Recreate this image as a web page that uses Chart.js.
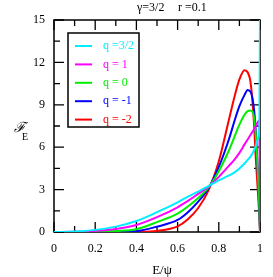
<!DOCTYPE html>
<html>
<head>
<meta charset="utf-8">
<script src="https://cdn.jsdelivr.net/npm/chart.js@4/dist/chart.umd.min.js"></script>
<style>
  body { margin: 0; background: #fff; }
  canvas { display: block; }
</style>
</head>
<body>
<canvas id="fe" width="273" height="277"></canvas>
<script>
const ePsi = [0, 0.1, 0.2, 0.3, 0.4, 0.5, 0.6, 0.65, 0.7, 0.75, 0.8, 0.85, 0.875, 0.9, 0.925, 0.94, 0.955, 0.97, 0.98, 0.99, 0.997, 1];

const fq32 = [0, 0.03, 0.15, 0.38, 0.78, 1.4, 2.1, 2.5, 2.85, 3.25, 3.65, 4.0, 4.2, 4.5, 4.85, 5.1, 5.35, 5.75, 6.1, 6.6, 7.3, 16];
const fq1  = [0, 0.01, 0.08, 0.22, 0.5, 1.05, 1.75, 2.2, 2.7, 3.2, 3.9, 4.7, 5.1, 5.6, 6.2, 6.55, 6.9, 7.25, 7.5, 7.8, 7.9, 0];
const fq0  = [0, 0, 0.02, 0.07, 0.2, 0.7, 1.3, 1.8, 2.4, 3.15, 4.3, 5.8, 6.7, 7.6, 8.3, 8.55, 8.6, 8.2, 6.8, 4.0, 1.6, 0];
const fqm1 = [0, 0, 0, 0.02, 0.06, 0.38, 0.85, 1.4, 2.15, 3.1, 4.6, 6.6, 7.8, 8.9, 9.7, 10.05, 9.9, 8.8, 7.0, 4.0, 1.4, 0];
const fqm2 = [0, 0, 0, 0, 0.01, 0.08, 0.4, 0.9, 1.7, 2.95, 5.0, 8.0, 9.5, 10.8, 11.45, 11.3, 10.5, 7.9, 5.1, 2.8, 1.0, 0];

const seriesLabels = ['q =3/2', 'q = 1', 'q = 0', 'q = -1', 'q = -2'];
const seriesColors = ['#00eeff', '#ff00ff', '#00ee00', '#0000ff', '#ff0000'];
const seriesData = [fq32, fq1, fq0, fqm1, fqm2];

const xTicks = [0, 0.2, 0.4, 0.6, 0.8, 1];
const yTicks = [0, 3, 6, 9, 12, 15];

const serif = "'Liberation Serif', 'Times New Roman', serif";
Chart.defaults.font.family = serif;
Chart.defaults.font.size = 12;
Chart.defaults.color = '#000';

const datasets = seriesData.map((vals, i) => ({
  label: seriesLabels[i],
  data: vals.map((v, j) => ({ x: ePsi[j], y: v })),
  borderColor: seriesColors[i],
  borderWidth: 2,
  pointRadius: 0,
  fill: false,
  cubicInterpolationMode: 'monotone'
}));

// frame with inward ticks on all four sides
const frame = {
  id: 'frame',
  beforeDatasetsDraw(chart) {
    const { ctx, chartArea: a, scales: { x, y } } = chart;
    ctx.save();
    ctx.strokeStyle = '#000';
    ctx.lineWidth = 1.5;
    ctx.strokeRect(a.left, a.top, a.right - a.left, a.bottom - a.top);
    ctx.lineWidth = 1.3;
    ctx.beginPath();
    for (let i = 0; i < xTicks.length; i++) {
      const px = x.getPixelForValue(xTicks[i]);
      ctx.moveTo(px, a.bottom); ctx.lineTo(px, a.bottom - 10);
      ctx.moveTo(px, a.top); ctx.lineTo(px, a.top + 10);
      if (i < xTicks.length - 1) {
        const mx = x.getPixelForValue((xTicks[i] + xTicks[i + 1]) / 2);
        ctx.moveTo(mx, a.bottom); ctx.lineTo(mx, a.bottom - 6);
        ctx.moveTo(mx, a.top); ctx.lineTo(mx, a.top + 6);
      }
    }
    for (let i = 0; i < yTicks.length; i++) {
      const py = y.getPixelForValue(yTicks[i]);
      ctx.moveTo(a.left, py); ctx.lineTo(a.left + 10, py);
      ctx.moveTo(a.right, py); ctx.lineTo(a.right - 10, py);
      if (i < yTicks.length - 1) {
        const my = y.getPixelForValue((yTicks[i] + yTicks[i + 1]) / 2);
        ctx.moveTo(a.left, my); ctx.lineTo(a.left + 6, my);
        ctx.moveTo(a.right, my); ctx.lineTo(a.right - 6, my);
      }
    }
    ctx.stroke();
    ctx.restore();
  },
  afterDraw(chart) {
    const { ctx } = chart;
    ctx.save();
    ctx.fillStyle = '#000';
    ctx.textBaseline = 'alphabetic';
    ctx.font = '12px ' + serif;
    ctx.fillText('\u03b3=3/2', 137, 11);
    ctx.fillText('r =0.1', 178, 11);

    ctx.font = '13px ' + serif;
    ctx.textAlign = 'center';
    ctx.fillText('E/\u03c8', 162, 274);

    ctx.textAlign = 'left';
    ctx.font = 'italic 14px ' + serif;
    ctx.fillText('\u2131', 14, 132);
    ctx.font = '10px ' + serif;
    ctx.fillText('E', 22, 140);

    // legend box
    ctx.strokeStyle = '#000';
    ctx.lineWidth = 1.5;
    ctx.strokeRect(68, 33, 71, 94);
    ctx.font = '12px ' + serif;
    ctx.textBaseline = 'middle';
    chart.data.datasets.forEach((ds, i) => {
      const ry = 46 + i * 18.4;
      ctx.strokeStyle = ds.borderColor;
      ctx.lineWidth = 2;
      ctx.beginPath();
      ctx.moveTo(75, ry); ctx.lineTo(92, ry);
      ctx.stroke();
      ctx.fillStyle = ds.borderColor;
      ctx.fillText(ds.label, 103, ry);
    });
    ctx.restore();
  }
};

new Chart(document.getElementById('fe'), {
  type: 'line',
  data: { datasets },
  options: {
    responsive: false,
    animation: false,
    devicePixelRatio: 1,
    layout: { padding: { left: 0, right: 2, top: 20, bottom: 0 } },
    plugins: { legend: { display: false }, tooltip: { enabled: false } },
    scales: {
      x: {
        type: 'linear', min: 0, max: 1,
        afterBuildTicks: s => { s.ticks = xTicks.map(v => ({ value: v })); },
        afterFit: s => { s.height = 45; },
        grid: { display: false, drawTicks: false },
        border: { display: false },
        ticks: { padding: 10, maxRotation: 0, callback: v => String(v) }
      },
      y: {
        min: 0, max: 15,
        afterBuildTicks: s => { s.ticks = yTicks.map(v => ({ value: v })); },
        afterFit: s => { s.width = 54; },
        grid: { display: false, drawTicks: false },
        border: { display: false },
        ticks: { padding: 9, callback: v => String(v) }
      }
    }
  },
  plugins: [frame]
});
</script>
</body>
</html>
